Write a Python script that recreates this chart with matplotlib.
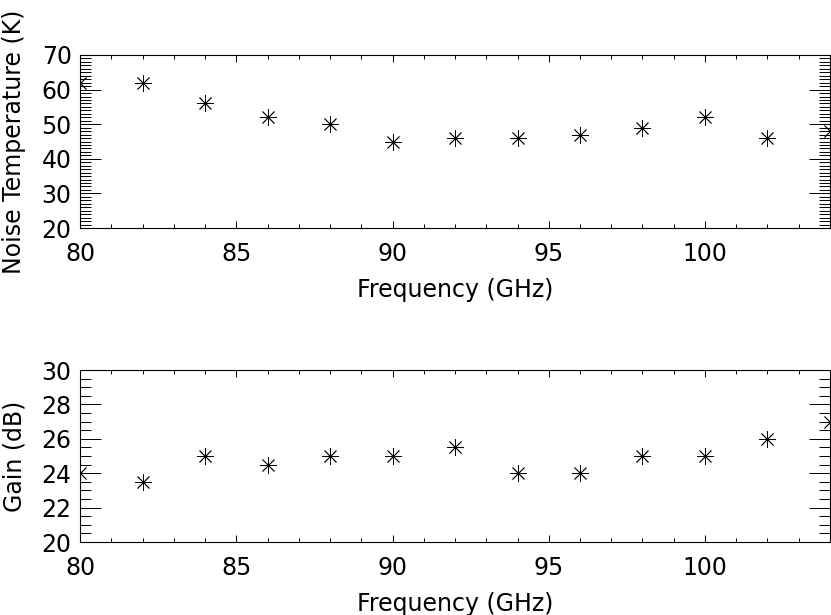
import matplotlib
matplotlib.use("Agg")
import matplotlib.pyplot as plt
from matplotlib.ticker import MultipleLocator

freq = [80, 82, 84, 86, 88, 90, 92, 94, 96, 98, 100, 102, 104]
noise_temp = [62, 62, 56, 52, 50, 45, 46, 46, 47, 49, 52, 46, 48]
gain = [24, 23.5, 25, 24.5, 25, 25, 25.5, 24, 24, 25, 25, 26, 27]

plt.rcParams['font.family'] = ['DejaVu Sans']
plt.rcParams['font.size'] = 17

fig = plt.figure(figsize=(8.31, 6.15), dpi=100)
W, H = 831, 615
ax1 = fig.add_axes([80 / W, 1 - 228 / H, 750 / W, 173 / H])
ax2 = fig.add_axes([80 / W, 1 - 542 / H, 750 / W, 172 / H])

star = (8, 2, 0)


def style(ax, ymaj, ymin):
    ax.set_xlim(80, 104)
    ax.xaxis.set_major_locator(MultipleLocator(5))
    ax.xaxis.set_minor_locator(MultipleLocator(1))
    ax.yaxis.set_major_locator(MultipleLocator(ymaj))
    ax.yaxis.set_minor_locator(MultipleLocator(ymin))
    ax.tick_params(axis='both', which='both', direction='in', top=True, right=True,
                   color='black', width=0.7)
    ax.tick_params(axis='x', which='major', length=5, pad=10)
    ax.tick_params(axis='x', which='minor', length=3)
    ax.tick_params(axis='y', which='major', length=15, pad=6)
    ax.tick_params(axis='y', which='minor', length=8)
    for s in ax.spines.values():
        s.set_linewidth(0.8)
    ax.set_xlabel("Frequency (GHz)", labelpad=9)
    ax.yaxis.set_label_coords(-54 / 750, 0.5)


ax1.plot(freq, noise_temp, linestyle='none', marker=star, markersize=12,
         markeredgewidth=0.6, color='black')
ax1.set_ylim(20, 70)
style(ax1, 10, 1)
ax1.set_ylabel("Noise Temperature (K)")

ax2.plot(freq, gain, linestyle='none', marker=star, markersize=12,
         markeredgewidth=0.6, color='black')
ax2.set_ylim(20, 30)
style(ax2, 2, 0.5)
ax2.set_ylabel("Gain (dB)")

fig.savefig("out.png", dpi=100)
